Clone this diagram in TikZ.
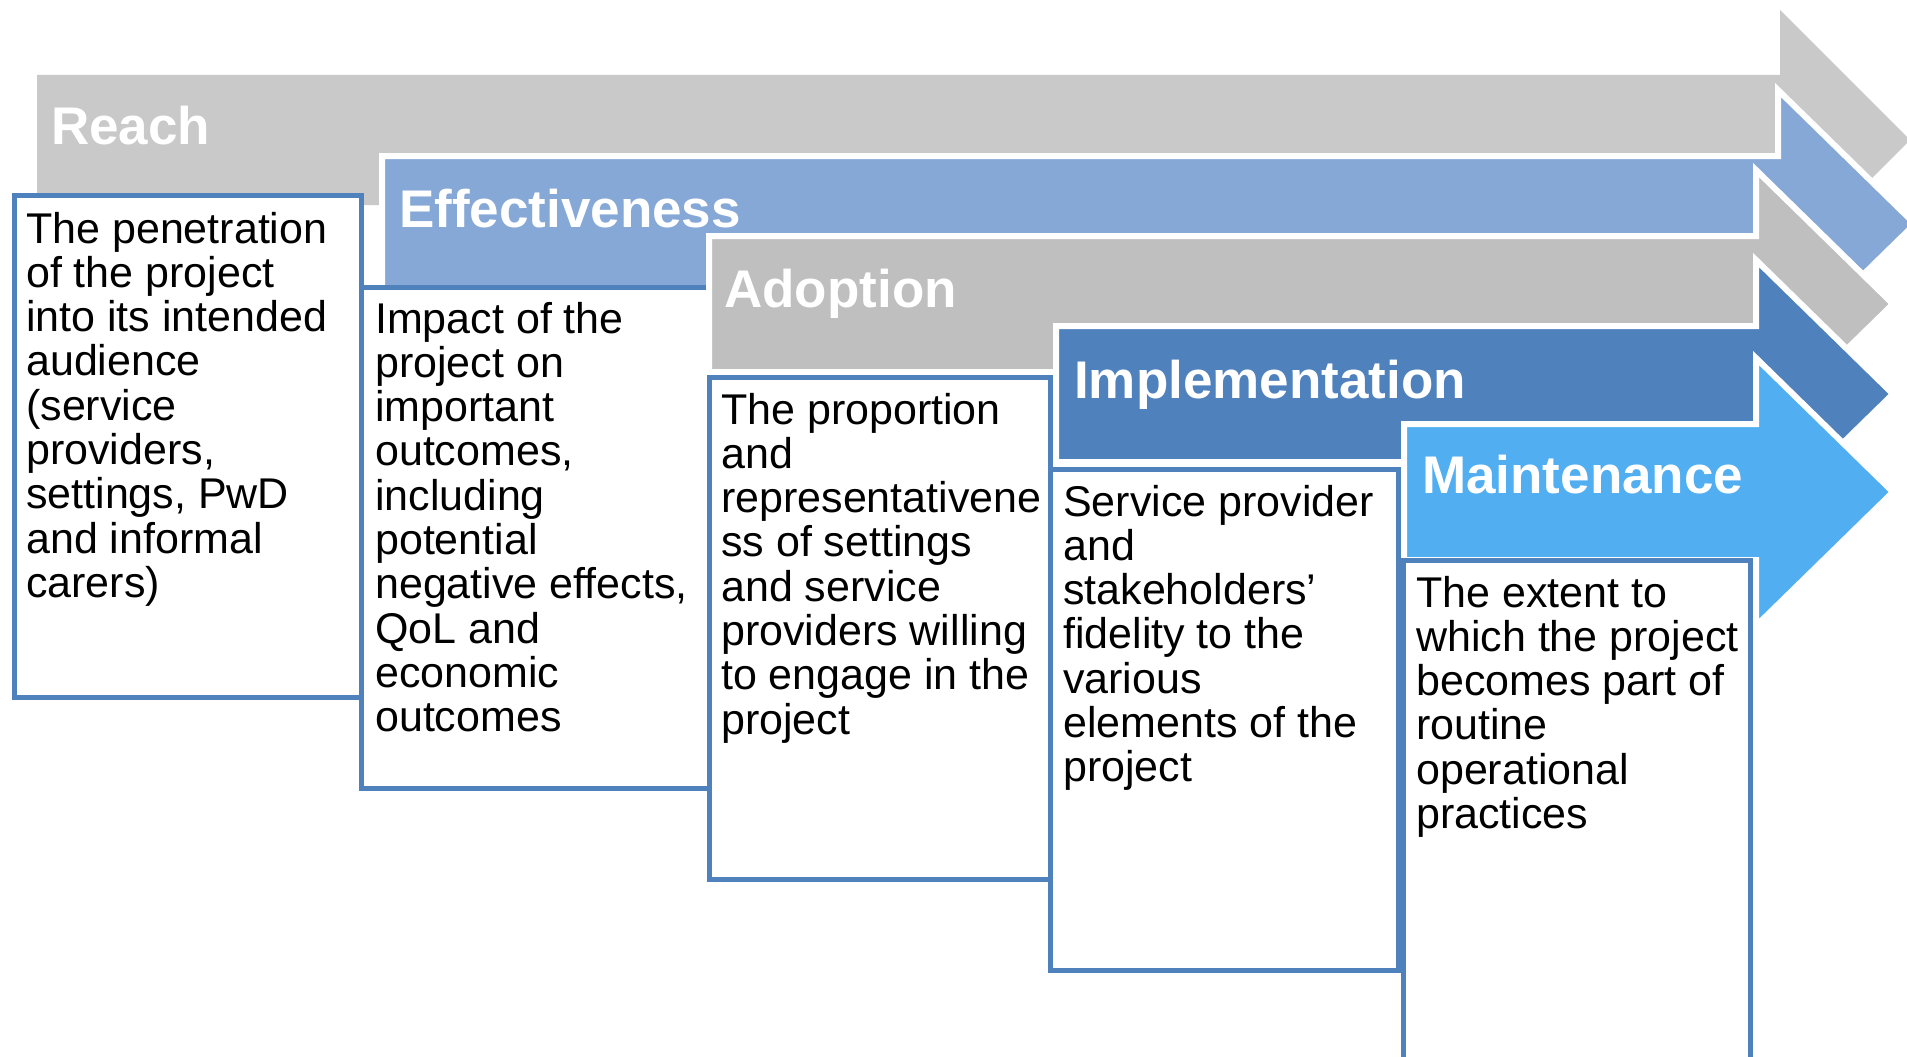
\documentclass[tikz,border=0pt]{standalone}
\usepackage{fontspec}
\setmainfont{Liberation Sans}
\definecolor{reachgray}{HTML}{C9C9C9}
\definecolor{effblue}{HTML}{86A8D6}
\definecolor{adoptgray}{HTML}{BFBFBF}
\definecolor{implblue}{HTML}{4F81BD}
\definecolor{maintblue}{HTML}{51AEF1}
\definecolor{boxblue}{HTML}{4F81BD}
\tikzset{
  outlinedarrow/.style={fill=#1, draw=white, line width=6pt, line join=miter},
  plainarrow/.style={fill=#1, draw=none},
  descbox/.style={fill=white, draw=boxblue, line width=5pt},
  stagetitle/.style={anchor=base west, inner sep=0pt, text=white,
    font=\fontsize{53}{60}\selectfont\bfseries},
  bodytext/.style={anchor=base west, inner sep=0pt, text=black,
    font=\fontsize{43}{44.3}\selectfont},
}
% #1 colour, #2 left (fill edge), #3 head base (fill edge), #4 centre y
\newcommand{\stageArrow}[4]{%
  \path[outlinedarrow=#1] (#2-3,#4-68) -- (#3-3,#4-68) -- (#3-3,#4-134)
    -- (#3+134,#4) -- (#3-3,#4+134) -- (#3-3,#4+68) -- (#2-3,#4+68) -- cycle;}
\newcommand{\bodyblock}[1]{\parbox[t]{400pt}{#1}}
\begin{document}
\begin{tikzpicture}[x=1pt,y=-1pt]
\useasboundingbox[fill=white] (0,0) rectangle (1907,1057);
\clip (0,0) rectangle (1907,1057);

% Reach
\path[plainarrow=reachgray] (37,75) -- (1780,75) -- (1780,10) -- (1910,140)
  -- (1780,270) -- (1780,205) -- (37,205) -- cycle;
\draw[descbox] (14.5,195.5) rectangle (361.5,697.5);
\node[stagetitle] (treach) at (51,144) {Reach};
\node[bodytext] (dreach) at (26,243) {\bodyblock{The penetration\\of the project\\into its intended\\audience\\(service\\providers,\\settings, PwD\\and informal\\carers)}};

% Effectiveness
\stageArrow{effblue}{385}{1781}{224}
\draw[descbox] (361.5,287.5) rectangle (709.5,788.5);
\node[stagetitle] (teff) at (399,227) {Effectiveness};
\node[bodytext] (deff) at (375,333) {\bodyblock{Impact of the\\project on\\important\\outcomes,\\including\\potential\\negative effects,\\QoL and\\economic\\outcomes}};

% Adoption
\stageArrow{adoptgray}{712}{1759}{304}
\draw[descbox] (709.5,377.5) rectangle (1050.5,879.5);
\node[stagetitle] (tadopt) at (724,307) {Adoption};
\node[bodytext] (dadopt) at (721,424) {\bodyblock{The proportion\\and\\representativene\\ss of settings\\and service\\providers willing\\to engage in the\\project}};

% Implementation
\stageArrow{implblue}{1059}{1759}{394}
\draw[descbox] (1050.5,469.5) rectangle (1398,970.5);
\node[stagetitle] (timpl) at (1074,398) {Implementation};
\node[bodytext] (dimpl) at (1063,516) {\bodyblock{Service provider\\and\\stakeholders’\\fidelity to the\\various\\elements of the\\project}};

% Maintenance
\stageArrow{maintblue}{1407}{1759}{492}
\draw[descbox] (1403.5,560.5) rectangle (1750.5,1090);
\node[stagetitle] (tmaint) at (1422,493) {Maintenance};
\node[bodytext] (dmaint) at (1416,607) {\bodyblock{The extent to\\which the project\\becomes part of\\routine\\operational\\practices}};
\end{tikzpicture}
\end{document}
